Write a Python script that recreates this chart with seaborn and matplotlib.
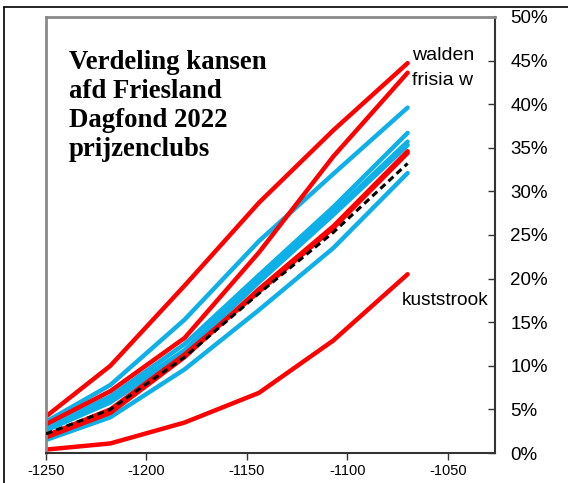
import numpy as np
import pandas as pd
import matplotlib
matplotlib.use("Agg")
import matplotlib.pyplot as plt
import seaborn as sns
from matplotlib.lines import Line2D

# x positions of the six points
x_vals = [-1250, -1218, -1181, -1144, -1107, -1070]

# percentages
walden     = [4.2, 10.0, 19.2, 28.7, 37.0, 44.7]
frisia_w   = [3.3, 7.1, 13.2, 23.0, 34.0, 43.6]
blue_1     = [3.6, 7.8, 15.3, 24.3, 32.0, 39.6]
blue_2     = [3.0, 6.5, 12.5, 20.4, 28.2, 36.7]
blue_3     = [2.8, 6.1, 11.8, 19.9, 27.6, 35.7]
blue_4     = [2.6, 5.8, 11.5, 19.6, 27.3, 35.3]
red_3      = [1.8, 4.6, 11.0, 18.8, 26.0, 34.6]
red_4      = [2.0, 5.0, 11.3, 18.5, 25.8, 34.4]
gemiddeld  = [2.2, 5.0, 11.0, 18.3, 25.3, 33.2]
blue_5     = [1.5, 4.1, 9.6, 16.4, 23.5, 32.1]
kuststrook = [0.4, 1.1, 3.5, 6.9, 12.9, 20.5]

series = {
    "blue_1": blue_1, "blue_2": blue_2, "blue_3": blue_3, "blue_4": blue_4,
    "blue_5": blue_5, "gemiddeld": gemiddeld, "red_3": red_3, "red_4": red_4,
    "frisia_w": frisia_w, "walden": walden, "kuststrook": kuststrook,
}
RED = "#FF0000"
BLUE = "#0FB0E8"
colors = {k: (BLUE if k.startswith("blue") else RED) for k in series}
colors["gemiddeld"] = "black"
dashes = {k: "" for k in series}
dashes["gemiddeld"] = (2.2, 1.4)

rows = []
for name, vals in series.items():
    for xv, yv in zip(x_vals, vals):
        rows.append({"x": xv, "y": yv, "club": name})
df = pd.DataFrame(rows)

sns.set_style("white")
plt.rcParams["font.family"] = ["Liberation Sans", "DejaVu Sans"]
plt.rcParams["axes.unicode_minus"] = False
plt.rcParams["text.color"] = "black"
plt.rcParams["xtick.labelcolor"] = "black"
plt.rcParams["ytick.labelcolor"] = "black"

fig = plt.figure(figsize=(5.68, 4.83), dpi=100)
ax = fig.add_axes([0.081, 0.062, 0.7905, 0.903])

sns.lineplot(data=df, x="x", y="y", hue="club", style="club",
             palette=colors, dashes=dashes, hue_order=list(series),
             style_order=list(series), legend=False, ax=ax,
             linewidth=3.2, sort=False)
for ln in ax.lines:
    if ln.get_color() == "black":
        ln.set_linewidth(2.2)
        ln.set_zorder(5)

ax.set_xlim(-1250, -1026.5)
ax.set_ylim(0, 50)
ax.set_xticks([-1250, -1200, -1150, -1100, -1050])
ax.set_yticks(np.arange(0, 51, 5))
ax.set_yticklabels([f"{v}%" for v in range(0, 51, 5)])
ax.yaxis.tick_right()
ax.set_xlabel("")
ax.set_ylabel("")

for side in ["left", "top"]:
    ax.spines[side].set_color("#8a8a8a")
    ax.spines[side].set_linewidth(2)
for side in ["right", "bottom"]:
    ax.spines[side].set_color("#333333")
    ax.spines[side].set_linewidth(1.5)

ax.tick_params(axis="y", which="both", direction="in", length=5, width=1,
               color="#333333", labelsize=13.5, pad=11, right=True, left=False)
ax.tick_params(axis="x", direction="out", length=5, width=1,
               color="#333333", labelsize=10.5, pad=3, bottom=True)

ax.text(-1238.7, 46.2, "Verdeling kansen\nafd Friesland\nDagfond 2022\nprijzenclubs",
        family=["Liberation Serif", "DejaVu Serif"], fontweight="bold",
        fontsize=19.3, va="top", ha="left", linespacing=1.21, color="black")

ax.text(-1067.8, 45.6, "walden", fontsize=14, va="center", ha="left")
ax.text(-1067.8, 42.7, "frisia w", fontsize=14, va="center", ha="left")
ax.text(-1072.8, 17.5, "kuststrook", fontsize=13.8, va="center", ha="left")

# outer chart border (top and left edges visible)
fig.add_artist(Line2D([0.007, 1.0], [0.985, 0.985], color="black", lw=1.2,
                      transform=fig.transFigure))
fig.add_artist(Line2D([0.007, 0.007], [0.0, 0.985], color="black", lw=1.2,
                      transform=fig.transFigure))

fig.savefig("out.png", dpi=100)
